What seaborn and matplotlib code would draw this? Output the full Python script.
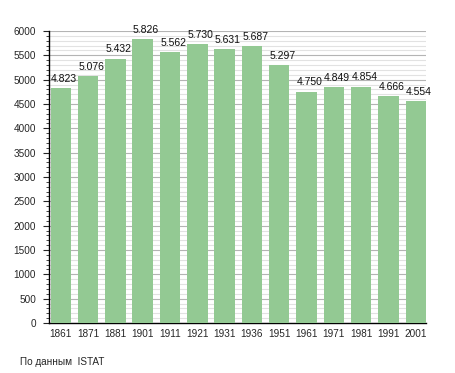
import matplotlib
matplotlib.use("Agg")
import matplotlib.pyplot as plt
import seaborn as sns
import pandas as pd
from matplotlib.ticker import MultipleLocator

years = ["1861", "1871", "1881", "1901", "1911", "1921", "1931",
         "1936", "1951", "1961", "1971", "1981", "1991", "2001"]
population = [4823, 5076, 5432, 5826, 5562, 5730, 5631,
              5687, 5297, 4750, 4849, 4854, 4666, 4554]
source_note = "По данным  ISTAT"

df = pd.DataFrame({"year": years, "pop": population})

sns.set_style("white")
plt.rcParams["font.family"] = ["Liberation Sans", "DejaVu Sans"]

fig = plt.figure(figsize=(4.55, 3.73), dpi=100)
ax = fig.add_axes([49 / 455, 1 - 323 / 373, (426 - 49) / 455, (323 - 31) / 373])

sns.barplot(data=df, x="year", y="pop", color="#93c993", saturation=1,
            width=0.75, linewidth=0, edgecolor="none", ax=ax, zorder=3)

# grid: major every 500, minor every 100
ax.set_ylim(0, 6000)
ax.yaxis.set_major_locator(MultipleLocator(500))
ax.yaxis.set_minor_locator(MultipleLocator(100))
ax.grid(which="major", axis="y", color="#b4b4b4", linewidth=0.8, zorder=0)
ax.grid(which="minor", axis="y", color="#e2e2e2", linewidth=0.8, zorder=0)
ax.set_axisbelow(True)
ax.set_xlim(-0.43, len(years) - 1 + 0.375)

for s in ["top", "right"]:
    ax.spines[s].set_visible(False)
for s in ["left", "bottom"]:
    ax.spines[s].set_color("black")
    ax.spines[s].set_linewidth(1)

ax.tick_params(axis="y", which="major", left=True, length=4.3, width=0.8,
               labelsize=7.2, pad=5)
ax.tick_params(axis="y", which="minor", left=True, length=2.2, width=0.6)
ax.tick_params(axis="x", bottom=False, labelsize=7.2, pad=1)
ax.set_xlabel("")
ax.set_ylabel("")

# value labels, sitting a little right of the bar centre like the original
for i, v in enumerate(population):
    lbl = f"{v:,}".replace(",", ".")
    ax.text(i + 0.12, v + 90, lbl, ha="center", va="bottom", fontsize=7.5,
            color="#111111")

fig.text(20 / 455, 1 - 362 / 373, source_note, fontsize=7.2, va="center", ha="left")

fig.savefig("out.png", dpi=100)
